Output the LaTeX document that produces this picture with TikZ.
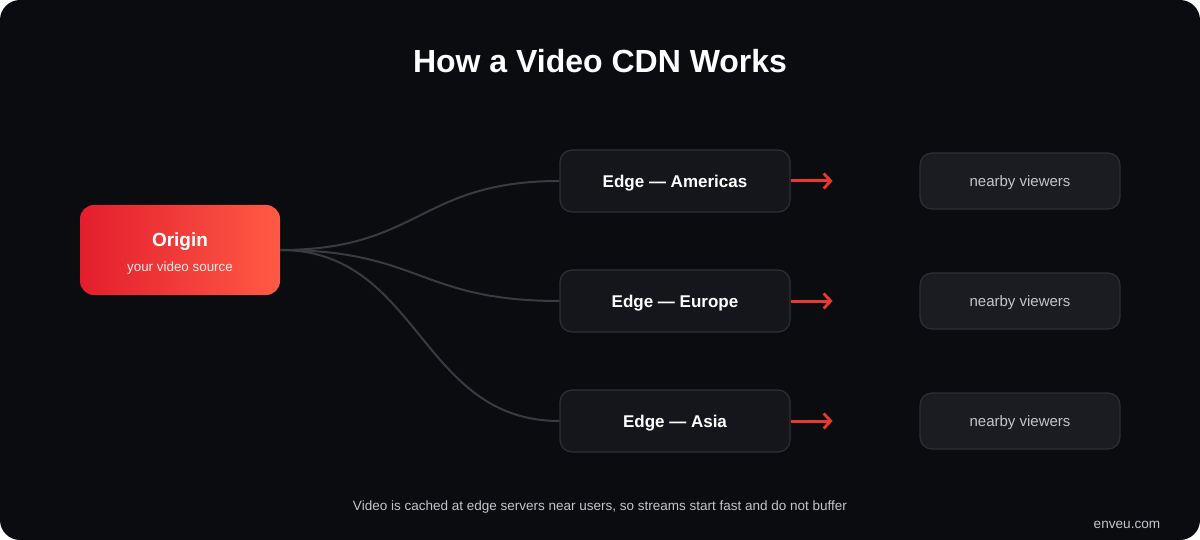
\documentclass[tikz,border=0pt]{standalone}
\usepackage{fontspec}
\setmainfont{Liberation Sans}
\usetikzlibrary{arrows.meta}
\definecolor{bg}{HTML}{0B0C10}
\definecolor{edgefill}{HTML}{15161B}
\definecolor{viewfill}{HTML}{1B1C21}
\definecolor{boxline}{HTML}{2E2F35}
\definecolor{curve}{HTML}{3A3B40}
\definecolor{redarrow}{HTML}{E8392F}
\definecolor{gradL}{HTML}{E31E2D}
\definecolor{gradR}{HTML}{FF5A45}
\definecolor{softtext}{HTML}{C4C4CA}
\tikzset{
  edgebox/.style={draw=boxline, line width=1.2pt, fill=edgefill, rounded corners=12pt,
    minimum width=230pt, minimum height=62pt, text=white, text height=12.2pt, text depth=0pt,
    font=\fontsize{17}{19}\selectfont\bfseries},
  viewbox/.style={draw=boxline, line width=1.2pt, fill=viewfill, rounded corners=12pt,
    minimum width=200pt, minimum height=56pt, text=softtext, text height=10.8pt, text depth=0pt,
    font=\fontsize{15}{17}\selectfont},
  link/.style={draw=curve, line width=2pt},
  redarr/.style={draw=redarrow, line width=3pt, line cap=butt,
    -{Straight Barb[length=7pt,width=15pt,line width=2.8pt]}},
}
\begin{document}
\begin{tikzpicture}[x=1pt,y=-1pt]
\useasboundingbox (0,0) rectangle (1200,540);
\fill[white] (0,0) rectangle (1200,540);
\fill[bg, rounded corners=20pt] (0,0) rectangle (1200,540);

\node[text=white, font=\fontsize{32}{36}\selectfont\bfseries] (title) at (600,61) {How a Video CDN Works};

\shade[left color=gradL, right color=gradR, rounded corners=14pt] (80,205) rectangle (280,295);
\node[draw=none, minimum width=200pt, minimum height=90pt, inner sep=0pt] (origin) at (180,250) {};
\node[text=white, font=\fontsize{19}{21}\selectfont\bfseries] (otitle) at (180,241.5) {Origin};
\node[text=white!92!red, font=\fontsize{13.4}{15}\selectfont] (osub) at (180,268) {your video source};

\node[edgebox] (e1) at (675,181) {Edge — Americas};
\node[edgebox] (e2) at (675,301) {Edge — Europe};
\node[edgebox] (e3) at (675,421) {Edge — Asia};

\node[viewbox] (v1) at (1020,181) {nearby viewers};
\node[viewbox] (v2) at (1020,301) {nearby viewers};
\node[viewbox] (v3) at (1020,421) {nearby viewers};

\foreach \i in {1,2,3}{
  \draw[link] (origin.east) .. controls +(140,0) and +(-140,0) .. (e\i.west);
  \coordinate (t\i) at ([xshift=42pt]e\i.east);
  \draw[redarr] (e\i.east) -- (t\i);
}

\node[text=softtext, font=\fontsize{13.5}{15}\selectfont] (foot) at (600,507) {Video is cached at edge servers near users, so streams start fast and do not buffer};
\node[text=softtext, font=\fontsize{13.6}{15}\selectfont] (brand) at (1127,525) {enveu.com};
\end{tikzpicture}
\end{document}
